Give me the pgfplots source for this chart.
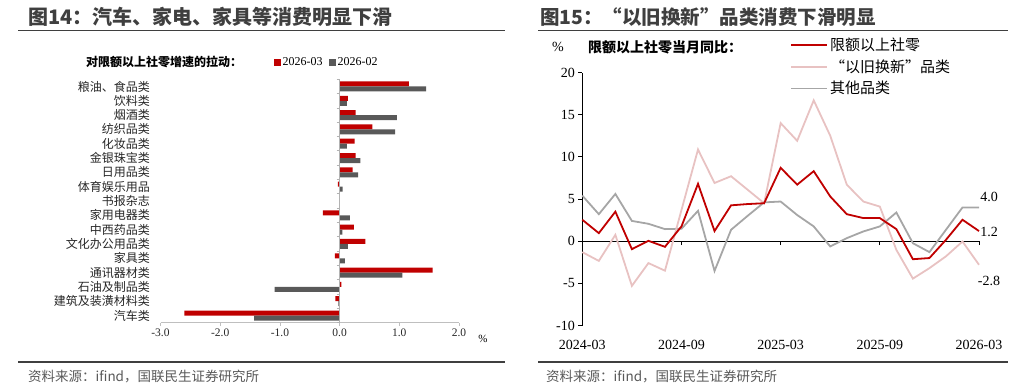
\documentclass[border=0pt]{standalone}
\usepackage{pgfplots}
\pgfplotsset{compat=1.18}
\usepackage{fontspec}
\setmainfont{Liberation Serif}
\newfontfamily\cjk{Noto Sans CJK SC}
\definecolor{cred}{HTML}{C00000}
\definecolor{cdgray}{HTML}{595959}
\definecolor{clgray}{HTML}{A6A6A6}
\definecolor{cpink}{HTML}{E8C2C2}
\definecolor{titlec}{HTML}{3F3F3F}
\begin{document}
\begin{tikzpicture}[x=1pt,y=1pt]
\useasboundingbox (0pt,0pt) rectangle (1024pt,-387pt);
% titles and rules
\node[anchor=west, inner sep=0, text=titlec, font=\cjk\bfseries\fontsize{20}{22}\selectfont] at (28pt,-17pt) {图14：汽车、家电、家具等消费明显下滑};
\node[anchor=west, inner sep=0, text=titlec, font=\cjk\bfseries\fontsize{19.5}{22}\selectfont] at (540pt,-17pt) {图15：“以旧换新”品类消费下滑明显};
\draw[titlec, line width=1.5pt] (18pt,-30.5pt) -- (505pt,-30.5pt);
\draw[titlec, line width=1.5pt] (538pt,-30.5pt) -- (1008pt,-30.5pt);
\draw[titlec, line width=1.2pt] (18pt,-362pt) -- (505pt,-362pt);
\draw[titlec, line width=1.2pt] (538pt,-362pt) -- (1008pt,-362pt);
\node[anchor=west, inner sep=0, text=cdgray, font=\cjk\fontsize{13.5}{15}\selectfont] at (28pt,-377pt) {资料来源：ifind，国联民生证券研究所};
\node[anchor=west, inner sep=0, text=cdgray, font=\cjk\fontsize{13.5}{15}\selectfont] at (546pt,-377pt) {资料来源：ifind，国联民生证券研究所};
% left chart
\node[anchor=west, inner sep=0, font=\cjk\bfseries\fontsize{12}{14}\selectfont] at (86pt,-62pt) {对限额以上社零增速的拉动：};
\node[anchor=center, inner sep=0, font=\fontsize{11}{13}\selectfont] at (483pt,-339pt) {\%};
\begin{axis}[at={(160.5pt,-322.7pt)}, anchor=south west, scale only axis,
  width=298.5pt, height=243.4pt,
  xmin=-3, xmax=2, ymin=-0.5, ymax=16.5,
  axis x line*=bottom, axis y line*=left,
  x axis line style={draw=black!25, line width=0.8pt, -},
  y axis line style={draw=none},
  xtick={-3,-2,-1,0,1,2}, xticklabels={-3.0,-2.0,-1.0,0.0,1.0,2.0},
  ytick={0,...,16},
  yticklabels={汽车类,建筑及装潢材料类,石油及制品类,通讯器材类,家具类,文化办公用品类,中西药品类,家用电器类,书报杂志,体育娱乐用品,日用品类,金银珠宝类,化妆品类,纺织品类,烟酒类,饮料类,粮油、食品类},
  yticklabel style={font=\cjk\fontsize{12}{12}\selectfont, text=black!85, xshift=-4pt},
  xticklabel style={font=\fontsize{11.5}{11.5}\selectfont, text=black!85},
  tick align=outside, major tick length=3pt,
  x tick style={draw=black!25, line width=0.8pt},
  y tick style={draw=none},
  clip=false,
  legend columns=2,
  legend style={at={(rel axis cs:0.38,1.071)}, anchor=west, draw=none, fill=none,
    font=\fontsize{12}{12}\selectfont, inner sep=0pt,
    /tikz/every even column/.append style={column sep=5pt},
    nodes={inner sep=1.5pt}},
  legend image code/.code={\fill[#1] (0pt,-3.5pt) rectangle (7pt,3.5pt);},
  ]
\addplot[xbar, bar width=5pt, bar shift=2.5pt, fill=cred, draw=none] coordinates {
(-2.60,0) (-0.07,1) (0.03,2) (1.56,3) (-0.08,4) (0.43,5) (0.24,6) (-0.28,7) (0.0,8) (-0.03,9) (0.22,10) (0.27,11) (0.25,12) (0.55,13) (0.27,14) (0.14,15) (1.16,16)};
\addlegendentry{2026-03}
\addplot[xbar, bar width=5pt, bar shift=-2.5pt, fill=cdgray, draw=none] coordinates {
(-1.43,0) (-0.02,1) (-1.09,2) (1.05,3) (0.09,4) (0.14,5) (0.045,6) (0.17,7) (0.0,8) (0.05,9) (0.31,10) (0.35,11) (0.12,12) (0.93,13) (0.96,14) (0.12,15) (1.45,16)};
\addlegendentry{2026-02}
\end{axis}
% left chart: y axis line at zero
\begin{axis}[at={(160.5pt,-322.7pt)}, anchor=south west, scale only axis,
  width=298.5pt, height=243.4pt,
  xmin=-3, xmax=2, ymin=-0.5, ymax=16.5,
  axis x line=none, axis y line=middle,
  y axis line style={draw=black!30, line width=0.8pt, -},
  ytick={-0.5,0.5,...,16.5}, yticklabels={},
  tick align=outside, major tick length=3pt,
  y tick style={draw=black!30, line width=0.8pt},
  ]
\end{axis}
% right chart
\node[anchor=center, inner sep=0, font=\fontsize{14}{16}\selectfont] at (558pt,-47pt) {\%};
\node[anchor=west, inner sep=0, font=\cjk\bfseries\fontsize{14}{16}\selectfont] at (588pt,-47pt) {限额以上社零当月同比：};
\begin{axis}[at={(582.3pt,-325.5pt)}, anchor=south west, scale only axis,
  width=396.7pt, height=253pt,
  xmin=0, xmax=24, ymin=-10, ymax=20,
  axis x line=middle, axis y line=left,
  axis line style={draw=black, line width=1pt, -},
  hide obscured x ticks=false, hide obscured y ticks=false,
  xtick={0,6,12,18,24}, xticklabels={2024-03,2024-09,2025-03,2025-09,2026-03},
  xticklabel style={font=\fontsize{14}{14}\selectfont, yshift=-91pt},
  ytick={-10,-5,0,5,10,15,20}, yticklabels={-10,-5,0,5,10,15,20},
  yticklabel style={font=\fontsize{14}{14}\selectfont},
  tick align=outside, major tick length=4pt,
  tick style={draw=black, line width=1pt},
  clip=false,
  reverse legend,
  legend cell align=left,
  legend style={at={(rel axis cs:0.5236,1.145)}, anchor=north west, draw=none, fill=none,
    font=\cjk\fontsize{15}{15}\selectfont, inner sep=0pt, row sep=3.5pt,
    nodes={inner sep=2pt}},
  legend image code/.code={\draw[#1] (0pt,0pt) -- (36pt,0pt);},
  ]
\addplot[clgray, line width=1.8pt] coordinates {
(0,5.4) (1,3.2) (2,5.6) (3,2.4) (4,2.06) (5,1.43) (6,1.47) (7,3.6) (8,-3.53) (9,1.35) (10,3.0) (11,4.6) (12,4.7) (13,3.1) (14,1.75) (15,-0.63) (16,0.36) (17,1.15) (18,1.75) (19,3.4) (20,-0.24) (21,-1.3) (22,1.35) (23,4.0) (24,4.0)};
\addlegendentry{其他品类}
\addplot[cpink, line width=1.8pt] coordinates {
(0,-1.3) (1,-2.34) (2,0.75) (3,-5.3) (4,-2.6) (5,-3.5) (6,3.7) (7,10.87) (8,6.9) (9,7.7) (10,6.1) (11,4.5) (12,14.0) (13,11.9) (14,16.7) (15,12.5) (16,6.7) (17,4.7) (18,4.1) (19,-1.03) (20,-4.44) (21,-3.2) (22,-1.8) (23,-0.04) (24,-2.8)};
\addlegendentry{“以旧换新”品类}
\addplot[cred, line width=1.8pt] coordinates {
(0,2.54) (1,0.95) (2,3.5) (3,-0.95) (4,0.04) (5,-0.67) (6,1.75) (7,6.8) (8,1.2) (9,4.25) (10,4.4) (11,4.5) (12,8.7) (13,6.7) (14,8.3) (15,5.3) (16,3.2) (17,2.74) (18,2.74) (19,1.43) (20,-2.14) (21,-2.0) (22,0.16) (23,2.54) (24,1.2)};
\addlegendentry{限额以上社零}
\node[anchor=center, inner sep=0, font=\fontsize{14}{14}\selectfont] at ([xshift=10pt]axis cs:24,5.3) {4.0};
\node[anchor=center, inner sep=0, font=\fontsize{14}{14}\selectfont] at ([xshift=10pt]axis cs:24,1.1) {1.2};
\node[anchor=center, inner sep=0, font=\fontsize{14}{14}\selectfont] at ([xshift=10pt]axis cs:24,-4.7) {-2.8};
\end{axis}
\end{tikzpicture}
\end{document}
